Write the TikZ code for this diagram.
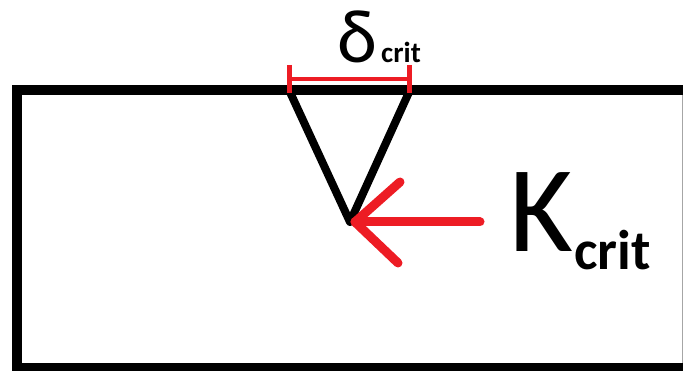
\documentclass[tikz,border=0pt]{standalone}
\usepackage{fontspec}
\setmainfont{Carlito}
\definecolor{paintred}{RGB}{237,28,36}
\begin{document}
\begin{tikzpicture}[x=1pt,y=-1pt,
  wall/.style={line width=10pt,line join=miter},
  notch/.style={line width=8pt,line join=round},
  dim/.style={paintred,line width=4pt},
  tick/.style={paintred,line width=5pt},
  force/.style={paintred,line width=9pt,line cap=round,line join=round},
  lbl/.style={inner sep=0pt,anchor=base west}]
\useasboundingbox (0,0) rectangle (683,371);
% specimen
\coordinate (tr) at (684,90);
\coordinate (tl) at (17,90);
\coordinate (bl) at (17,368);
\coordinate (br) at (684,368);
\draw[wall] (tr) -- (tl) -- (bl) -- (br);
\draw[gray!70,line width=0.8pt] (682.6,95) -- (682.6,363);
% notch
\coordinate (n1) at (289,90);
\coordinate (tip) at (350,222);
\coordinate (n2) at (410,90);
\draw[notch] (n1) -- (tip) -- (n2);
% crack opening dimension
\coordinate (d1) at (289,79);
\coordinate (d2) at (409,79);
\draw[dim] (d1) -- (d2);
\draw[tick] (289,65) -- (289,93);
\draw[tick] (409,65) -- (409,93);
\node[lbl,font=\fontsize{76}{76}\selectfont] (delta) at (337,63) {δ};
\node[lbl,font=\bfseries\fontsize{29}{29}\selectfont] (dsub) at (381,63) {crit};
% force arrow
\coordinate (fs) at (480,222);
\coordinate (fh) at (355,222);
\coordinate (fa) at (400,182);
\coordinate (fb) at (398,263);
\draw[force] (fs) -- (fh);
\draw[force] (fa) -- (fh) -- (fb);
\node[lbl,font=\fontsize{123}{123}\selectfont] (K) at (509,252) {K};
\node[lbl,font=\bfseries\fontsize{56}{56}\selectfont] (ksub) at (574,270) {crit};
\end{tikzpicture}
\end{document}
